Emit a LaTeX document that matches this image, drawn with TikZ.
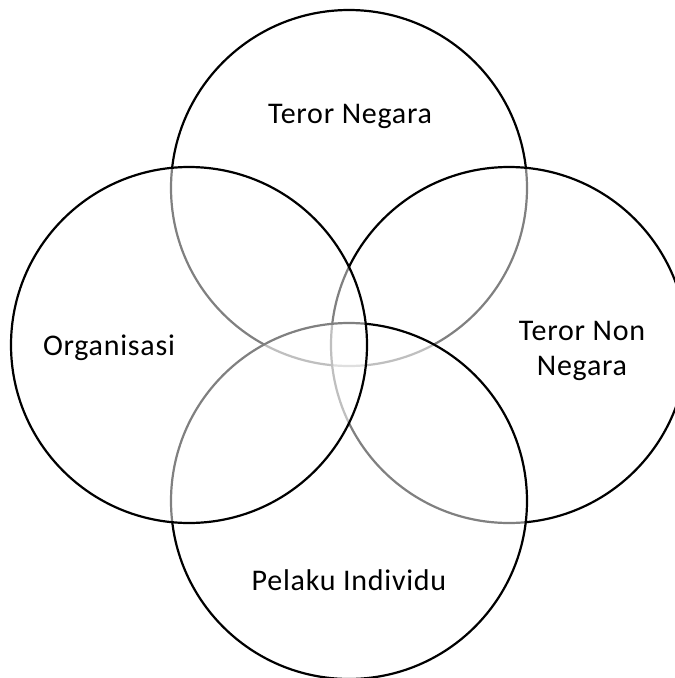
\documentclass[tikz,border=0pt]{standalone}
\usepackage{fontspec}
\setmainfont{Carlito}[LetterSpace=2.5]
\begin{document}
\begin{tikzpicture}[x=1pt,y=-1pt,
  venn/.style={circle, draw=black, line width=2.2pt, fill=white, fill opacity=0.5,
    draw opacity=1, minimum size=356pt, inner sep=0pt},
  lbl/.style={font=\fontsize{30}{35}\selectfont, align=center, text=black}]
\useasboundingbox (0,0) rectangle (675,678);
% circles, back to front
\node[venn] (top)    at (349,188) {};
\node[venn] (right)  at (509,345) {};
\node[venn] (bottom) at (349,501) {};
\node[venn] (left)   at (189,345) {};
% labels
\node[lbl] (ltop)    at (350,116) {Teror Negara};
\node[lbl] (lleft)   at (109,348) {Organisasi};
\node[lbl] (lright)  at (582,351) {Teror Non\\Negara};
\node[lbl] (lbottom) at (349,580) {Pelaku Individu};
\end{tikzpicture}
\end{document}
